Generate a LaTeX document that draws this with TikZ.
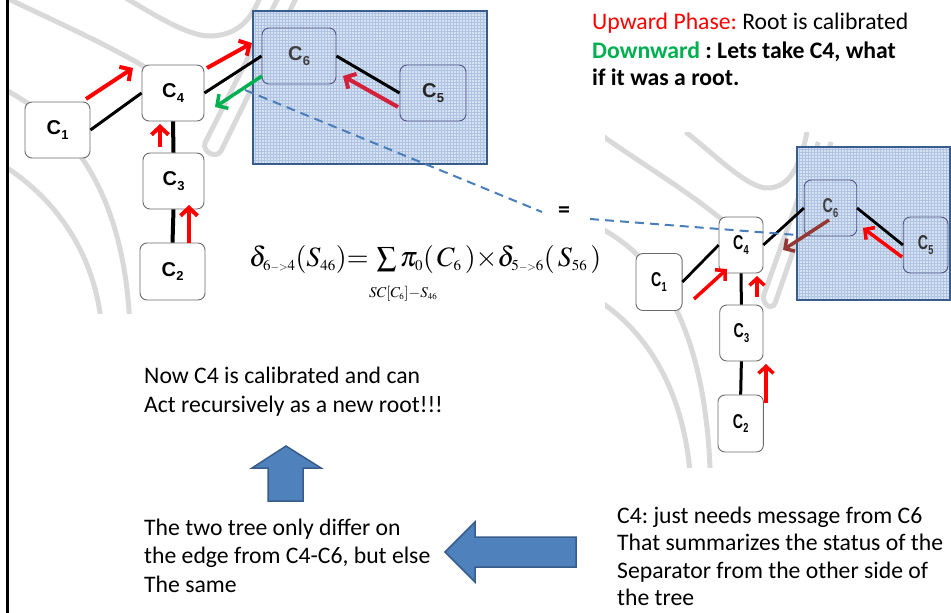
\documentclass[tikz,border=0pt]{standalone}
\usepackage{mathptmx}
\usepackage[no-math]{fontspec}
\setmainfont{Carlito}
\newfontfamily\arialf{Liberation Sans}
\usetikzlibrary{arrows.meta,calc}
\DeclareMathSizes{28}{28}{15}{11}
\DeclareMathSizes{15}{15}{9}{7}
\definecolor{boxgray}{HTML}{6B6B6B}
\definecolor{msgred}{HTML}{FF0000}
\definecolor{deepred}{HTML}{D4203A}
\definecolor{brownred}{HTML}{953735}
\definecolor{dngreen}{HTML}{00B050}
\definecolor{rectblue}{HTML}{385D8A}
\definecolor{rectfill}{HTML}{D5E0F0}
\definecolor{gridblue}{HTML}{AFC4E2}
\definecolor{dashblue}{HTML}{4A7EBB}
\definecolor{bgray}{HTML}{D9D9D9}
\definecolor{blockfill}{HTML}{4F81BD}
\definecolor{blockline}{HTML}{385D8A}
\newcommand\lbl{\arialf\bfseries\fontsize{20}{20}\selectfont}
\newcommand\cc[1]{C\kern0.3pt\raisebox{-4.5pt}{\fontsize{13}{13}\selectfont#1}}
\newcommand\bodyf{\fontsize{23.7}{28}\selectfont}
\newcommand\arr{{\scriptscriptstyle -}{\scriptscriptstyle >}}
\newcommand\bgcurves{%
  \draw[bgline] (-20,-15) .. controls (40,15) and (100,40) .. (150,70);
  \draw[bgline] (95,-20) .. controls (140,5) and (185,38) .. (213,36) .. controls (240,34) and (255,18) .. (266,-20);
  \draw[bgline] (282,-10) -- (205,143) .. controls (202,152) and (216,159) .. (221,151) -- (300,-10);
  \draw[bgline] (-20,78) .. controls (60,110) and (125,180) .. (130,330);
  \draw[bgline] (-25,150) .. controls (40,180) and (95,240) .. (102,330);
}
\begin{document}
\frenchspacing
\begin{tikzpicture}[x=1pt,y=-1pt,
  cbox/.style={draw=boxgray, line width=0.9pt, rounded corners=7pt, fill=white, inner sep=0pt, font=\lbl},
  cboxt/.style={cbox, fill=none, draw=boxgray!80!blue},
  tedge/.style={line width=3pt, black},
  tedgev/.style={line width=4pt, black},
  msg/.style={line width=4pt, draw=msgred, -{Straight Barb[length=8pt,width=17pt]}},
  msgs/.style={line width=3.5pt, draw=msgred, -{Straight Barb[length=7pt,width=15pt]}},
  gridline/.style={line width=0.6pt, gridblue},
  dashline/.style={line width=2pt, dashblue, dash pattern=on 9pt off 6pt},
  bgline/.style={line width=5pt, bgray},
  blockarrow/.style={fill=blockfill, draw=blockline, line width=1.5pt, line join=miter},
  txt/.style={anchor=base west, inner sep=0pt, font=\bodyf}
]
\useasboundingbox (0,0) rectangle (951,613);
% left border
\draw[line width=3pt] (7,0) -- (7,613);
% ---------- background curves ----------
\begin{scope}
  \clip (9,0) rectangle (600,313);
  \bgcurves
\end{scope}
\begin{scope}
  \clip (605,132) rectangle (951,467);
  \begin{scope}[shift={(618.2,152)}, xscale=0.71]
    \bgcurves
  \end{scope}
\end{scope}
% ---------- left blue rectangle ----------
\fill[rectfill] (253,11) rectangle (487,164);
\foreach \xx in {255,258,...,486} \draw[gridline] (\xx,11) -- (\xx,164);
\foreach \yy in {13,16,...,163} \draw[gridline] (253,\yy) -- (487,\yy);
\draw[rectblue, line width=2.5pt] (253,11) rectangle (487,164);
% ---------- left tree ----------
\node[cbox, minimum width=65pt, minimum height=56pt] (c1) at (57.5,130) {\cc1};
\node[cbox, minimum width=62pt, minimum height=56pt] (c4) at (173,93) {\cc4};
\node[cbox, minimum width=61pt, minimum height=56pt] (c3) at (173.5,181) {\cc3};
\node[cbox, minimum width=65pt, minimum height=57pt] (c2) at (172.5,271.5) {\cc2};
\node[cboxt, minimum width=74pt, minimum height=56pt, text=black!75] (c6) at (299,56) {\arialf\fontsize{20}{20}\selectfont\cc6};
\node[cboxt, minimum width=66pt, minimum height=56pt, text=black!85] (c5) at (433,93) {\cc5};
\draw[tedge] (c1.east) -- (c4.west);
\draw[tedge] (c4.east) -- (c6.west);
\draw[tedgev] (c4.south) -- (c3.north);
\draw[tedgev] (c3.south) -- (c2.north);
\draw[tedge] (c6.east) -- (c5.west);
% messages
\coordinate (a1s) at (86,99);   \coordinate (a1e) at (133,68);
\coordinate (a2s) at (207,68);  \coordinate (a2e) at (252,43);
\coordinate (a3s) at (160,147); \coordinate (a3e) at (160,124);
\coordinate (a4s) at (189,243); \coordinate (a4e) at (189,205);
\coordinate (a5s) at (398,107); \coordinate (a5e) at (343,76);
\coordinate (a6s) at (262,76);  \coordinate (a6e) at (215,107);
\draw[msg] (a1s) -- (a1e);
\draw[msg] (a2s) -- (a2e);
\draw[msg] (a3s) -- (a3e);
\draw[msg] (a4s) -- (a4e);
\draw[msg, draw=deepred] (a5s) -- (a5e);
\draw[msg, draw=dngreen, line width=3.5pt] (a6s) -- (a6e);
% ---------- right blue rectangle ----------
\fill[rectfill] (797,147) rectangle (950,300);
\foreach \xx in {799,802,...,949} \draw[gridline] (\xx,147) -- (\xx,300);
\foreach \yy in {149,152,...,299} \draw[gridline] (797,\yy) -- (950,\yy);
\draw[rectblue, line width=2.5pt] (797,147) rectangle (950,300);
% ---------- right tree ----------
\begin{scope}[shift={(618.2,152)}, xscale=0.71, every node/.append style={transform shape}]
\node[cbox, minimum width=65pt, minimum height=57pt] (r1) at (57.5,130) {\cc1};
\node[cbox, minimum width=62pt, minimum height=56pt] (r4) at (173,93) {\cc4};
\node[cbox, minimum width=61pt, minimum height=56pt] (r3) at (173.5,181) {\cc3};
\node[cbox, minimum width=64pt, minimum height=57pt] (r2) at (172.5,271.5) {\cc2};
\node[cboxt, minimum width=74pt, minimum height=56pt, text=black!75] (r6) at (299,56) {\arialf\fontsize{20}{20}\selectfont\cc6};
\node[cboxt, minimum width=63pt, minimum height=56pt, text=black!80] (r5) at (433,93) {\arialf\fontsize{20}{20}\selectfont\cc5};
\end{scope}
\draw[tedge, line width=2.8pt] (r1.east) -- (r4.west);
\draw[tedge, line width=2.8pt] (r4.east) -- (r6.west);
\draw[tedge, line width=3pt] (r4.south) -- (r3.north);
\draw[tedge, line width=3pt] (r3.south) -- (r2.north);
\draw[tedge, line width=2.8pt] (r6.east) -- (r5.west);
\coordinate (b1s) at (694,299); \coordinate (b1e) at (727,269);
\coordinate (b2s) at (757,297); \coordinate (b2e) at (757,276);
\coordinate (b3s) at (766,403); \coordinate (b3e) at (766,364);
\coordinate (b4s) at (902,257); \coordinate (b4e) at (863,228);
\coordinate (b5s) at (829,220); \coordinate (b5e) at (783,250);
\draw[msgs] (b1s) -- (b1e);
\draw[msgs] (b2s) -- (b2e);
\draw[msgs] (b3s) -- (b3e);
\draw[msgs] (b4s) -- (b4e);
\draw[msgs, draw=brownred] (b5s) -- (b5e);
% ---------- dashed link ----------
\node[inner sep=0pt, font=\bfseries\fontsize{24}{24}\selectfont] (eq) at (564,212) {=};
\coordinate (d1) at (245,90);  \coordinate (d1e) at (542,212);
\coordinate (d2s) at (590,219); \coordinate (d2) at (797,235);
\draw[dashline] (d1) -- (d1e);
\draw[dashline] (d2s) -- (d2);
% ---------- formula ----------
\node[anchor=base west, inner sep=0pt] (formula) at (249,266)
  {\fontsize{28}{30}\selectfont $\delta_{6\arr4}(S_{46})\mathord{=}\hspace{5pt}\sum\pi_0(\,C_6\,)\mathord{\times}\delta_{5\arr6}(\,S_{56}\,)$};
\node[anchor=base west, inner sep=0pt] (flimit) at (369,297)
  {\fontsize{15}{15}\selectfont $SC[C_6]{-}S_{46}$};
% ---------- texts ----------
\node[txt] (t1) at (592,30) {\textcolor{msgred}{Upward Phase:} Root is calibrated};
\node[txt, font=\bodyf\bfseries] (t2) at (592,58) {\textcolor{dngreen}{Downward} : Lets take C4, what};
\node[txt, font=\bodyf\bfseries] (t3) at (592,85) {if it was a root.};
\node[txt] (n1) at (144,383) {Now C4 is calibrated and can};
\node[txt] (n2) at (144,412) {Act recursively as a new root!!!};
\node[txt] (w1) at (144,535) {The two tree only differ on};
\node[txt] (w2) at (144,563) {the edge from C4-C6, but else};
\node[txt] (w3) at (144,592) {The same};
\node[txt] (s1) at (617,523) {C4: just needs message from C6};
\node[txt] (s2) at (617,550) {That summarizes the status of the};
\node[txt] (s3) at (617,578) {Separator from the other side of};
\node[txt] (s4) at (617,605) {the tree};
% ---------- block arrows ----------
\draw[blockarrow] (286,446) -- (321,468) -- (303,468) -- (303,501) -- (268,501) -- (268,468) -- (252,468) -- cycle;
\draw[blockarrow] (445,552) -- (475,522) -- (475,537) -- (576,537) -- (576,567) -- (475,567) -- (475,582) -- cycle;
\end{tikzpicture}
\end{document}
